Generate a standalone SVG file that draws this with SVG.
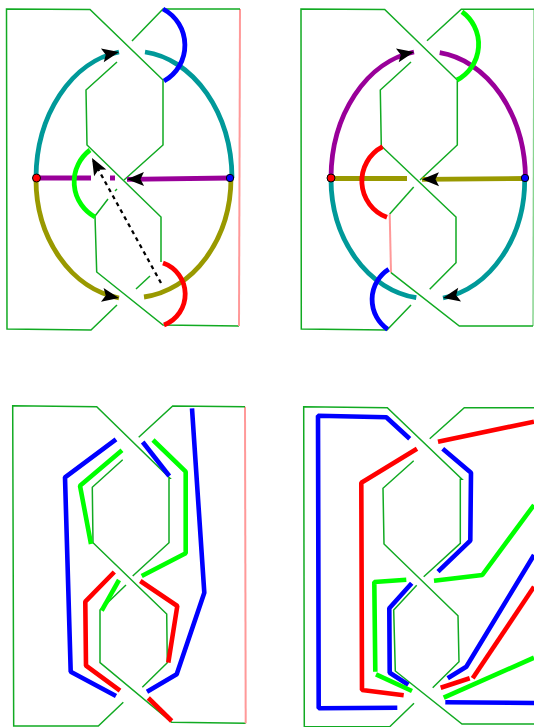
<svg xmlns="http://www.w3.org/2000/svg" width="534" height="727" viewBox="0 0 534 727">
<style>
.k{fill:none;stroke:#11aa22;stroke-width:1.5}
.p{fill:none;stroke:#ff9999;stroke-width:2}
.t{fill:none;stroke-width:4.8;stroke-linejoin:miter}
.s{fill:none;stroke-width:4.6;stroke-linejoin:bevel}
.teal{stroke:#009999}.purple{stroke:#990099}.olive{stroke:#999900}
.r{stroke:#ff0000}.g{stroke:#00ff00}.b{stroke:#0000ff}
.a{marker-end:url(#arrow)}
</style>
<defs>
<marker id="arrow" markerUnits="userSpaceOnUse" markerWidth="20" markerHeight="16" refX="17" refY="7" orient="auto" overflow="visible">
<path d="M0,0 L17,7 L0,14 L3.5,7 Z" fill="#000"/>
</marker>
</defs>
<g id="panel-top-left">
<g id="knot-1">
<polyline class="k" points="117,305 91,330 7,329 6.5,9 90,9.5 163,80 163,145 124,180"/>
<polyline class="k" points="117,62 86,90 87,145 161,217 161,262"/>
<polyline class="k" points="150,276 136,289"/>
<polyline class="k" points="117,189 115,191"/>
<polyline class="k" points="108,199 95,216 96.7,272 163,325 239,326"/>
<polyline class="p" points="239,326 240,9"/>
<polyline class="k" points="240,9 163,9 132,41"/>
</g>
<g id="connectors-1">
<path class="t teal a" d="M36,178 A98,128 0 0 1 119,52"/>
<path class="t teal" d="M145,52 A98,128 0 0 1 232,178"/>
<path class="t olive a" d="M36,178 A98,120 0 0 0 119,298"/>
<path class="t olive" d="M144,297 A98,120 0 0 0 231,178"/>
<path class="t purple" d="M36,178 H91 M110,178 H115"/>
<path class="t purple a" d="M230,178 L127,179.3"/>
<path class="t b" d="M163,9 A41,41 0 0 1 164,81"/>
<path class="t g" d="M90,150 A40,40 0 0 0 95,217"/>
<path class="t r" d="M163,263 A33,33 0 0 1 164,325"/>
<path d="M161,283 L92,158" fill="none" stroke="#000" stroke-width="2.3" stroke-dasharray="4,4" marker-end="url(#arrow)"/>
</g>
<circle id="dot-red-1" cx="36.5" cy="178" r="4" fill="#ff0000" stroke="#000" stroke-width="1"/>
<circle id="dot-blue-1" cx="230" cy="178" r="3.7" fill="#0000ff" stroke="#000" stroke-width="1"/>
</g>
<g id="panel-top-right">
<g id="knot-2">
<polyline class="k" points="411,305 387,330 301.3,329 301,9 384.7,9.5 457.3,80 457.3,145 420,180"/>
<polyline class="k" points="411,62 380.3,90 381.3,146 456,217 456,262.7 429.7,289.3"/>
<polyline class="k" points="413.7,187 389.7,214"/>
<polyline class="p" points="389.7,214 391,272.7"/>
<polyline class="k" points="391,272.7 459.3,326 533,326"/>
<polyline class="k" points="533,326 534,10" stroke-opacity="0.5"/>
<polyline class="k" points="534,9.3 461.3,9.3 427,40.7"/>
</g>
<g id="connectors-2">
<path class="t purple a" d="M331,178 A98,128 0 0 1 414,52"/>
<path class="t purple" d="M439.7,52.7 A98,128 0 0 1 525.5,178"/>
<path class="t teal" d="M331,178 A98,120 0 0 0 416.3,297.7"/>
<path class="t teal a" d="M524.7,178 A98,120 0 0 1 443,298"/>
<path class="t olive" d="M331,178.5 H407"/>
<path class="t olive a" d="M525,178.5 L422,179.3"/>
<path class="t r" d="M382.7,146.7 A38.7,38.7 0 0 0 387,217.3"/>
<path class="t g" d="M462,11.7 A40.3,40.3 0 0 1 457,80"/>
<path class="t b" d="M388.7,269.3 A36,36 0 0 0 387.7,329.3"/>
</g>
<circle id="dot-red-2" cx="331" cy="178" r="4" fill="#ff0000" stroke="#000" stroke-width="1"/>
<circle id="dot-blue-2" cx="525" cy="178" r="3.7" fill="#0000ff" stroke="#000" stroke-width="1"/>
</g>
<g id="panel-bottom-left">
<g id="knot-3">
<polyline class="k" points="123.3,702.3 98.3,726 13.7,726 12.7,405.7 96.7,406.7 170,478.3 169,478.3 169,542.7 132.7,576"/>
<polyline class="k" points="122.7,459.7 92.3,487.3 93,542.7 166.7,614 167.3,662.7 142.3,687.3"/>
<polyline class="k" points="126,585 100,610 100,662.7 171.7,722.3 245.7,723.3"/>
<polyline class="p" points="245.7,723.3 245,406.7"/>
<polyline class="k" points="245,406.7 172.7,406 138.7,437.3"/>
</g>
<g id="connectors-3">
<polyline class="s b" points="116,439.3 65,477.3 70.7,671.7 116,696"/>
<polyline class="s g" points="122,450.3 80,485.7 91,544"/>
<polyline class="s b" points="142.7,442 169.3,476"/>
<polyline class="s g" points="153,440 185.7,471.7 185.7,553.3 141.7,576"/>
<polyline class="s b" points="192,408.3 204.3,592.7 176.7,674.3 147,691.7"/>
<polyline class="s r" points="114.3,572 85.3,601.7 86,665.7 120,690.7"/>
<polyline class="s g" points="119,580 101.7,610.7"/>
<polyline class="s r" points="140.3,581 177.3,606 168.3,662.7"/>
<polyline class="s r" points="148.3,698 171.7,721"/>
</g>
</g>
<g id="panel-bottom-right">
<g id="knot-4">
<polyline class="k" points="414,703.3 389.7,726.7 304.3,726.7 303.7,406.7 387.3,407.7 462,479.3 460.3,479.3 460.3,543.3 423.7,576.7"/>
<polyline class="k" points="413.7,460.7 383,488.3 384,544 458,615.7 459,661.7 432.7,687.7"/>
<polyline class="k" points="416.7,585.3 393.7,610 395.3,671 462,724 534,724"/>
<polyline class="k" points="534,407.7 464.3,407.7 429.7,438.7"/>
</g>
<g id="connectors-4">
<polyline class="s b" points="409.7,438.7 386.3,417.3 318,415.7 318.7,708.3 397.3,707.7"/>
<polyline class="s r" points="417,448.7 361.3,482.7 362,690 403.7,695.3"/>
<polyline class="s r" points="438,441.7 534,421.7"/>
<polyline class="s b" points="442.7,448.7 471,472.7 470.3,540.7 438,571.7"/>
<polyline class="s g" points="406.3,579.7 374.3,582 375.3,671.7"/>
<polyline class="s g" points="434,580.7 482.3,575 534,505"/>
<polyline class="s b" points="411.7,583.3 389.3,608.3 389.7,672.7 408.3,684.7"/>
<polyline class="s g" points="376,674.3 412,691"/>
<polyline class="s b" points="447.7,678.3 466.3,666.7 534,555"/>
<polyline class="s r" points="440.7,687.7 469.7,678.3"/>
<polyline class="s r" points="472.7,678.3 534,586.7"/>
<polyline class="s g" points="443.7,697.7 534,657.7"/>
<polyline class="s b" points="445.3,702.3 534,703"/>
</g>
</g>
</svg>
